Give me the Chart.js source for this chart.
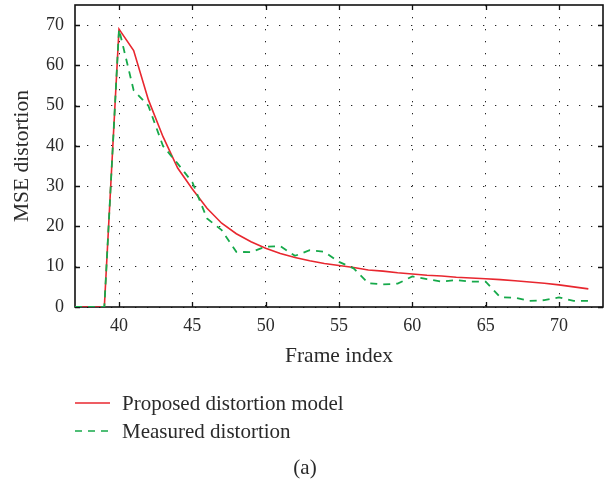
<!DOCTYPE html>
<html>
<head>
<meta charset="utf-8">
<script src="https://cdn.jsdelivr.net/npm/chart.js@4.4.1/dist/chart.umd.min.js"></script>
<style>
  html, body { margin: 0; padding: 0; background: #fff; }
  #wrap { position: relative; width: 610px; height: 479px; font-family: 'Liberation Serif', serif; color: #2a2a2a; }
  #c { position: absolute; left: 0; top: 0; }
  .leg { position: absolute; left: 75px; font-size: 21px; line-height: 24px; }
  .leg svg { position: absolute; left: 0; top: 0; }
  .leg span { position: absolute; left: 47px; top: 0; white-space: nowrap; }
  #cap { position: absolute; left: 0; width: 610px; top: 455px; text-align: center; font-size: 21px; }
</style>
</head>
<body>
<div id="wrap">
  <canvas id="c" width="610" height="479"></canvas>
  <div class="leg" id="leg1" style="top:391px"></div>
  <div class="leg" id="leg2" style="top:419px"></div>
  <div id="cap">(a)</div>
</div>
<script>
// frame index and the two distortion curves
const frames = [37, 38, 39, 40, 41, 42, 43, 44, 45, 46, 47, 48, 49, 50, 51, 52, 53, 54,
                55, 56, 57, 58, 59, 60, 61, 62, 63, 64, 65, 66, 67, 68, 69, 70, 71, 72];
const modelMSE = [0, 0, 0, 69, 63.7, 51.5, 42.3, 34.5, 29.3, 24.5, 20.8, 18.2, 16.2, 14.6, 13.3, 12.3, 11.5, 10.8,
                  10.3, 9.8, 9.2, 8.9, 8.5, 8.2, 7.9, 7.7, 7.4, 7.2, 7.0, 6.8, 6.5, 6.2, 5.9, 5.5, 5.0, 4.5];
const measuredMSE = [0, 0, 0, 69, 53.8, 50, 40, 35.6, 31, 22, 19.1, 13.7, 13.6, 15.0, 15.1, 12.7, 14.1, 13.7,
                     11.2, 9.6, 5.9, 5.6, 5.8, 7.6, 6.9, 6.3, 6.7, 6.3, 6.3, 2.4, 2.3, 1.5, 1.7, 2.4, 1.5, 1.5];
const xTicks = [40, 45, 50, 55, 60, 65, 70];
const yTicks = [0, 10, 20, 30, 40, 50, 60, 70];
const seriesNames = ['Proposed distortion model', 'Measured distortion'];

const RED = '#e8272f', GREEN = '#16a94a', INK = '#2a2a2a';
const FONT = 'Liberation Serif';

const pts = ys => frames.map((f, i) => ({ x: f, y: ys[i] }));

// closed frame + short inward tick marks on all four sides
const framePlugin = {
  id: 'frame',
  beforeDatasetsDraw(chart) {
    const { ctx, chartArea: a, scales: { x, y } } = chart;
    ctx.save();
    ctx.strokeStyle = '#111'; ctx.lineWidth = 1.6;
    ctx.strokeRect(a.left, a.top, a.right - a.left, a.bottom - a.top);
    ctx.lineWidth = 1.3;
    ctx.beginPath();
    xTicks.forEach(v => {
      const px = Math.round(x.getPixelForValue(v)) + 0.5;
      ctx.moveTo(px, a.bottom); ctx.lineTo(px, a.bottom - 5);
      ctx.moveTo(px, a.top); ctx.lineTo(px, a.top + 5);
    });
    yTicks.forEach(v => {
      const py = Math.round(y.getPixelForValue(v)) + 0.5;
      ctx.moveTo(a.left, py); ctx.lineTo(a.left + 5, py);
      ctx.moveTo(a.right, py); ctx.lineTo(a.right - 5, py);
    });
    ctx.stroke();
    ctx.restore();
  },
};

new Chart(document.getElementById('c'), {
  type: 'line',
  data: {
    datasets: [
      { label: seriesNames[0], data: pts(modelMSE), borderColor: RED, borderWidth: 1.6,
        pointRadius: 0, tension: 0, fill: false, order: 2 },
      { label: seriesNames[1], data: pts(measuredMSE), borderColor: GREEN, borderWidth: 1.8,
        borderDash: [7, 6], pointRadius: 0, tension: 0, fill: false, order: 1 },
    ],
  },
  options: {
    responsive: false, animation: false, devicePixelRatio: 1,
    layout: { padding: { left: 0, top: 5, right: 7, bottom: 107 } },
    plugins: { legend: { display: false }, tooltip: { enabled: false } },
    scales: {
      x: {
        type: 'linear', min: 37, max: 73,
        afterFit: s => { s.height = 65; s.paddingLeft = 0; s.paddingRight = 0; },
        afterBuildTicks: s => { s.ticks = xTicks.map(v => ({ value: v })); },
        ticks: { font: { family: FONT, size: 18 }, color: INK, padding: 8, maxRotation: 0 },
        grid: { color: '#222', lineWidth: 1, drawTicks: false },
        border: { display: false, dash: [1.3, 10.7] },
        title: { display: true, text: 'Frame index', color: INK,
                 font: { family: FONT, size: 21.5 }, padding: { top: 0, bottom: 3 } },
      },
      y: {
        min: 0, max: 75,
        afterFit: s => { s.width = 75; s.paddingTop = 0; s.paddingBottom = 0; },
        afterBuildTicks: s => { s.ticks = yTicks.map(v => ({ value: v })); },
        ticks: { font: { family: FONT, size: 18 }, color: INK, padding: 11 },
        grid: { color: '#222', lineWidth: 1, drawTicks: false },
        border: { display: false, dash: [1.3, 10.7] },
        title: { display: true, text: 'MSE distortion', color: INK,
                 font: { family: FONT, size: 21.5 }, padding: { top: 9, bottom: 0 } },
      },
    },
  },
  plugins: [framePlugin],
});

// legend below the plot
function legendRow(id, name, color, dash) {
  const el = document.getElementById(id);
  el.innerHTML = '<svg width="40" height="24"><line x1="0" y1="12" x2="35" y2="12" stroke="' + color +
    '" stroke-width="1.6"' + (dash ? ' stroke-dasharray="' + dash + '"' : '') + '/></svg><span>' + name + '</span>';
}
legendRow('leg1', seriesNames[0], RED, null);
legendRow('leg2', seriesNames[1], GREEN, '7 6');
</script>
</body>
</html>
